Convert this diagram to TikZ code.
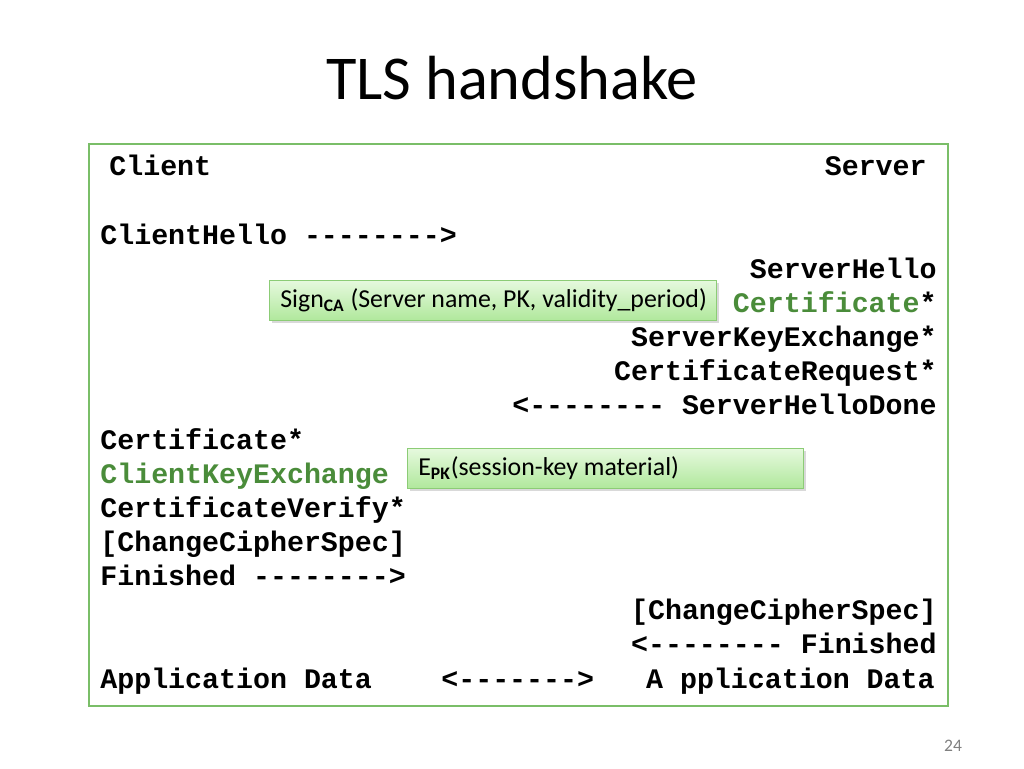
\documentclass[tikz,border=0pt]{standalone}
\usepackage{fontspec}
\setmainfont{Carlito}
\newfontfamily\codefont{Liberation Mono}
\usetikzlibrary{shadows}
\definecolor{framegreen}{RGB}{122,190,104}
\definecolor{msggreen}{RGB}{74,140,58}
\definecolor{calloutline}{RGB}{140,204,118}
\definecolor{callouttop}{RGB}{230,249,222}
\definecolor{calloutbottom}{RGB}{176,232,156}
\tikzstyle{title} = [font=\fontsize{35.5}{42}\selectfont, inner sep=0pt]
\tikzstyle{msg} = [font=\codefont\bfseries\fontsize{16.1}{19}\selectfont, inner sep=0pt]
\tikzstyle{msgleft} = [msg, anchor=base west]
\tikzstyle{msgright} = [msg, anchor=base east]
\tikzstyle{callout} = [rectangle, draw=calloutline, top color=callouttop, bottom color=calloutbottom, anchor=north west, inner sep=0pt, drop shadow={shadow xshift=1.5pt, shadow yshift=-1.5pt, opacity=0.3}]
\tikzstyle{note} = [anchor=west, inner sep=0pt, font=\fontsize{14.7}{17}\selectfont]
\newcommand{\notesub}[1]{$_{\textbf{\fontsize{10}{12}\selectfont #1}}$}

\begin{document}
\begin{tikzpicture}[x=0.02cm, y=-0.02cm]
	\useasboundingbox (0,0) rectangle (1024,768);
	\node (title) [title] at (512,78) {TLS handshake};
	\draw [framegreen, line width=1.6pt] (89,144) rectangle (948,706);
	% client side
	\node (client) [msgleft] at (109,175) {Client};
	\node (chello) [msgleft] at (100,244) {ClientHello -------->};
	\node (ccert) [msgleft] at (100,449) {Certificate*};
	\node (ckex) [msgleft, text=msggreen] at (100,483) {ClientKeyExchange};
	\node (cverify) [msgleft] at (100,517) {CertificateVerify*};
	\node (cccs) [msgleft] at (100,551) {[ChangeCipherSpec]};
	\node (cfin) [msgleft] at (100,585) {Finished -------->};
	\node (cdata) [msgleft] at (100,688) {Application Data};
	\node (dataarrow) [msgleft] at (441,688) {<------->};
	% server side
	\node (server) [msgright] at (927,175) {Server};
	\node (shello) [msgright] at (937,278) {ServerHello};
	\node (scert) [msgright] at (937,312) {{\color{msggreen}Certificate}*};
	\node (skex) [msgright] at (937,346) {ServerKeyExchange*};
	\node (sreq) [msgright] at (937,380) {CertificateRequest*};
	\node (sdone) [msgright] at (937,414) {<-------- ServerHelloDone};
	\node (sccs) [msgright] at (937,619) {[ChangeCipherSpec]};
	\node (sfin) [msgright] at (937,653) {<-------- Finished};
	\node (sdata) [msgright] at (935,688) {A pplication Data};
	% annotations
	\node (signbox) [callout, minimum width=447*0.02cm, minimum height=40*0.02cm] at (269,280) {};
	\node (signtext) [note] at (280,300) {Sign\notesub{CA} (Server name, PK, validity\_period)};
	\node (encbox) [callout, minimum width=396*0.02cm, minimum height=40*0.02cm] at (407,448) {};
	\node (enctext) [note] at (418,468) {E\notesub{PK}(session-key material)};
	\node (pagenum) [text=gray, font=\fontsize{10}{12}\selectfont] at (953,746) {24};
\end{tikzpicture}
\end{document}
